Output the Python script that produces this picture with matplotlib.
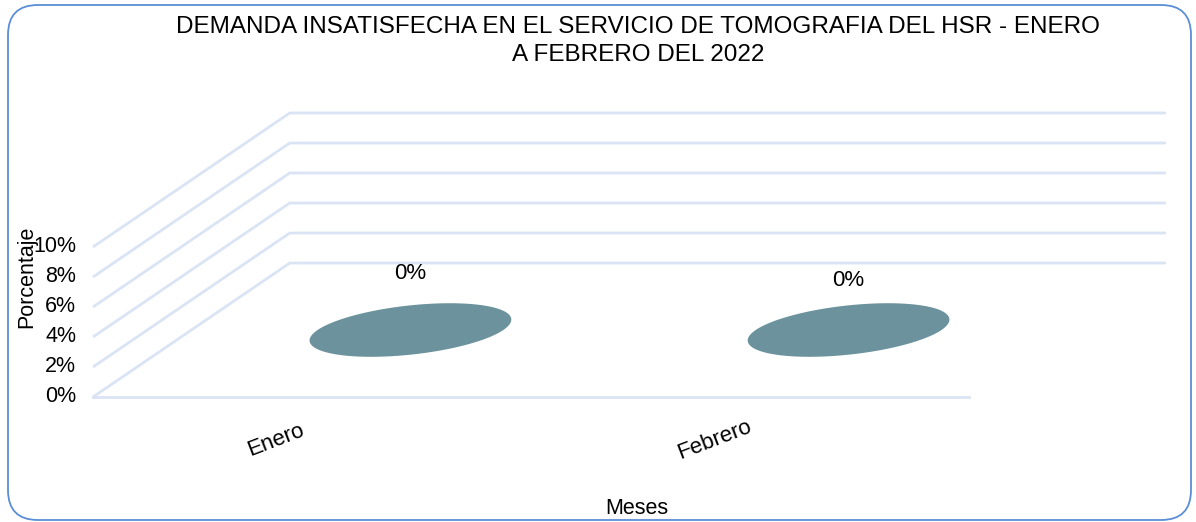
import matplotlib
matplotlib.use("Agg")
import matplotlib.pyplot as plt
import matplotlib.transforms as mtransforms
from matplotlib.patches import FancyBboxPatch
import numpy as np

plt.rcParams['font.family'] = ['Liberation Sans', 'DejaVu Sans']

# datos
meses = ["Enero", "Febrero"]
valores = [0, 0]
yticks = [0, 2, 4, 6, 8, 10]
titulo = "DEMANDA INSATISFECHA EN EL SERVICIO DE TOMOGRAFIA DEL HSR - ENERO\nA FEBRERO DEL 2022"

# profundidad del efecto 3D (en unidades de datos)
DX = 0.449
DY = 8.93
grid_color = "#dae4f4"
bar_color = "#6b929d"


def proj(x, y, d):
    # desplaza un punto del plano frontal hacia el fondo
    return np.asarray(x) + DX * np.asarray(d), np.asarray(y) + DY * np.asarray(d)


fig = plt.figure(figsize=(11.96, 5.22), dpi=100)
W, H = 1196, 522

# borde redondeado
borde = FancyBboxPatch((8 / W, 2 / H), 1183 / W, 515 / H,
                       boxstyle="round,pad=0,rounding_size=0.025",
                       transform=fig.transFigure, fill=False,
                       edgecolor="#5b8ed6", linewidth=1.3, mutation_aspect=W / H)
fig.patches.append(borde)

ax = fig.add_axes([93 / W, 125 / H, 1073 / W, 284 / H])
ax.set_xlim(0, len(meses) + DX)
ax.set_ylim(0, max(yticks) + DY)
ax.axis("off")

# lineas de cuadricula (pared lateral + pared del fondo)
for v in yticks:
    xs, ys = proj([0, 0, len(meses)], [v, v, v], [0, 1, 1])
    ax.plot(xs, ys, color=grid_color, lw=2, solid_capstyle="butt", clip_on=False)
# borde frontal del piso
ax.plot([0, len(meses)], [0, 0], color=grid_color, lw=2, clip_on=False)

# etiquetas del eje y
tick_tr = mtransforms.offset_copy(ax.transData, fig, x=-17, y=0, units="dots")
for v in yticks:
    ax.text(0, v, f"{v}%", transform=tick_tr, ha="right", va="center",
            fontsize=15.5, color="black")

# cilindros (altura = valor)
t = np.linspace(0, 2 * np.pi, 200)
label_dy = [57, 50]
for i, (m, val) in enumerate(zip(meses, valores)):
    xc = i + 0.5
    ex = xc + 0.212 * np.cos(t)
    ed = 0.5 + 0.2 * np.sin(t)
    xb, yb = proj(ex, np.zeros_like(t), ed)
    xt, yt = proj(ex, np.full_like(t, val), ed)
    if val > 0:
        ax.fill(np.r_[xb, xt[::-1]], np.r_[yb, yt[::-1]], color=bar_color, lw=0)
    ax.fill(xt, yt, color=bar_color, lw=0, clip_on=False)
    # etiqueta de dato
    cx, cy = proj(xc, val, 0.5)
    lab_tr = mtransforms.offset_copy(ax.transData, fig, x=0, y=label_dy[i], units="dots")
    ax.text(cx, cy, f"{val}%", transform=lab_tr,
            ha="center", va="center", fontsize=16, color="black")
    # etiqueta de categoria
    cat_tr = mtransforms.offset_copy(ax.transData, fig, x=-36, y=-43, units="dots")
    ax.text(xc, 0, m, transform=cat_tr, ha="center", va="center",
            rotation=21, rotation_mode="anchor", fontsize=16, color="black")

fig.text(638 / W, 1 - 41 / H, titulo, ha="center", va="center",
         fontsize=17.5, color="black", linespacing=1.4)
fig.text(637 / W, 1 - 508 / H, "Meses", ha="center", va="center", fontsize=15.5)
fig.text(27 / W, 1 - 277 / H, "Porcentaje", ha="center", va="center",
         rotation=90, fontsize=15.5)

fig.savefig("out.png", dpi=100)
